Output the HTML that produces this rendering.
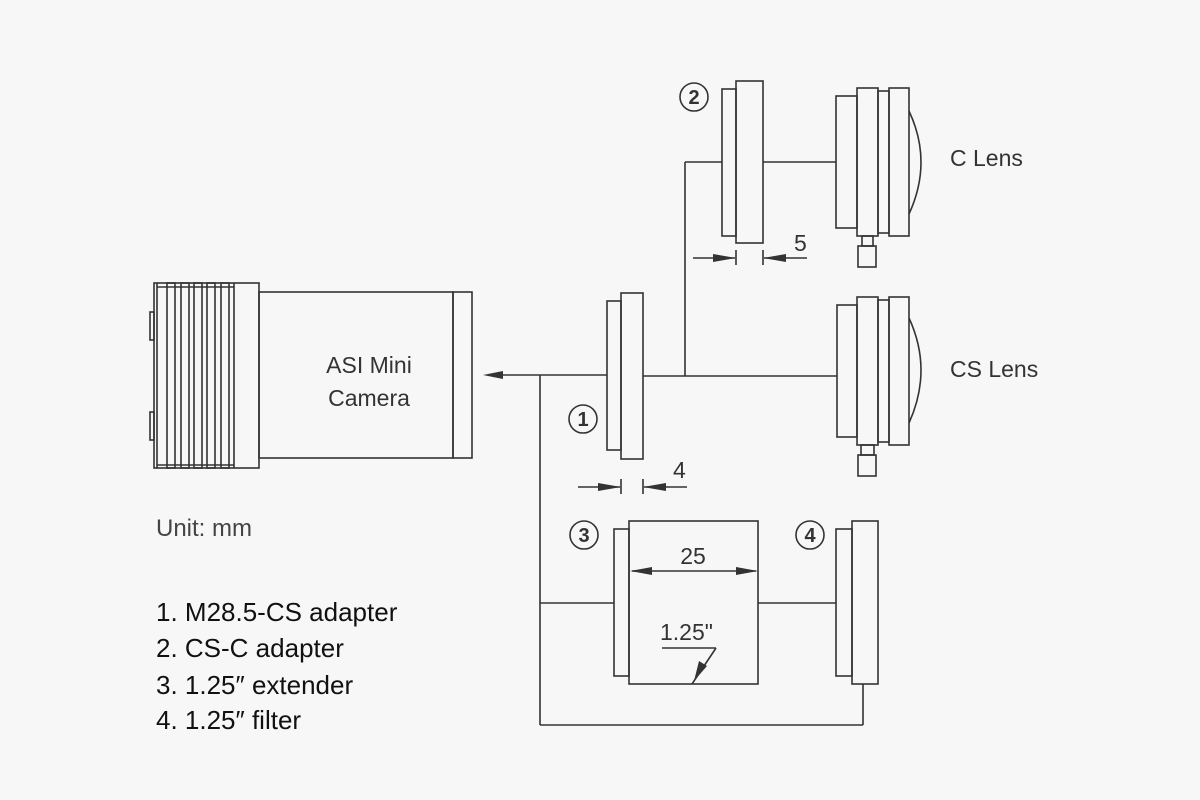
<!DOCTYPE html>
<html><head><meta charset="utf-8"><style>
html,body{margin:0;padding:0;background:#f7f7f7;}
svg{display:block;}
text{font-family:"Liberation Sans",sans-serif;}
</style></head><body>
<svg width="1200" height="800" viewBox="0 0 1200 800" xmlns="http://www.w3.org/2000/svg">
<rect width="1200" height="800" fill="#f7f7f7"/>
<g fill="none" stroke="#333" stroke-width="1.6">
<rect x="150" y="312" width="4" height="28"/>
<rect x="150" y="412" width="4" height="28"/>
<rect x="154" y="283" width="105" height="185"/>
<line x1="157" y1="283" x2="157" y2="468"/>
<line x1="157" y1="287" x2="234" y2="287"/>
<line x1="157" y1="465" x2="234" y2="465"/>
<rect x="167" y="283" width="8" height="185"/>
<rect x="181" y="283" width="8" height="185"/>
<rect x="194" y="283" width="8" height="185"/>
<rect x="207" y="283" width="8" height="185"/>
<rect x="221" y="283" width="8" height="185"/>
<line x1="234" y1="283" x2="234" y2="468"/>
<rect x="259" y="292" width="194" height="166"/>
<rect x="453" y="292" width="19" height="166"/>
<line x1="495" y1="375" x2="607" y2="375"/>
<line x1="540" y1="375" x2="540" y2="725"/>
<line x1="540" y1="725" x2="863" y2="725"/>
<line x1="863" y1="725" x2="863" y2="684"/>
<line x1="643" y1="376" x2="837" y2="376"/>
<line x1="685" y1="376" x2="685" y2="162"/>
<line x1="685" y1="162" x2="722" y2="162"/>
<line x1="763" y1="162" x2="836" y2="162"/>
<line x1="540" y1="603" x2="614" y2="603"/>
<line x1="758" y1="603" x2="836" y2="603"/>
<rect x="607" y="301" width="14" height="149"/>
<rect x="621" y="293" width="22" height="166"/>
<rect x="722" y="89" width="14" height="147"/>
<rect x="736" y="81" width="27" height="162"/>
<rect x="836" y="96" width="21" height="132"/>
<rect x="857" y="88" width="21" height="148"/>
<rect x="878" y="91" width="11" height="142"/>
<rect x="889" y="88" width="20" height="148"/>
<path d="M909 111 Q933 162 909 214"/>
<rect x="862" y="236" width="11" height="10"/>
<rect x="858" y="246" width="18" height="21"/>
<rect x="837" y="305" width="20" height="132"/>
<rect x="857" y="297" width="21" height="148"/>
<rect x="878" y="300" width="11" height="142"/>
<rect x="889" y="297" width="20" height="148"/>
<path d="M909 318 Q933 370 909 423"/>
<rect x="861" y="445" width="13" height="10"/>
<rect x="858" y="455" width="18" height="21"/>
<rect x="614" y="529" width="15" height="147"/>
<rect x="629" y="521" width="129" height="163"/>
<rect x="836" y="529" width="16" height="147"/>
<rect x="852" y="521" width="26" height="163"/>
<circle cx="583" cy="419" r="14"/>
<circle cx="694" cy="97" r="14"/>
<circle cx="584" cy="535" r="14"/>
<circle cx="810" cy="535" r="14"/>
<line x1="578" y1="487" x2="620" y2="487"/>
<line x1="621" y1="479" x2="621" y2="494"/>
<line x1="643" y1="479" x2="643" y2="494"/>
<line x1="644" y1="487" x2="687" y2="487"/>
<line x1="693" y1="258" x2="735" y2="258"/>
<line x1="736" y1="250" x2="736" y2="265"/>
<line x1="763" y1="250" x2="763" y2="265"/>
<line x1="764" y1="258" x2="807" y2="258"/>
<line x1="632" y1="571" x2="756" y2="571"/>
<line x1="662" y1="648" x2="716" y2="648"/>
<line x1="716" y1="648" x2="692" y2="684"/>
</g>
<g fill="#333">
<polygon points="483,375 503,371 503,379"/>
<polygon points="621,487 598,483 598,491"/>
<polygon points="643,487 666,483 666,491"/>
<polygon points="736,258 713,254 713,262"/>
<polygon points="763,258 786,254 786,262"/>
<polygon points="630,571 652,567 652,575"/>
<polygon points="758,571 736,567 736,575"/>
<polygon points="694,681 699,661 707,666"/>
</g>
<g fill="#333" font-size="23">
<text x="369" y="373" text-anchor="middle">ASI Mini</text>
<text x="369" y="406" text-anchor="middle">Camera</text>
<text x="950" y="166">C Lens</text>
<text x="950" y="377">CS Lens</text>
<text x="156" y="536" fill="#444" font-size="24">Unit: mm</text>
<text x="693" y="564" text-anchor="middle">25</text>
<text x="660" y="640">1.25"</text>
<text x="794" y="251">5</text>
<text x="673" y="478">4</text>
</g>
<g fill="#333" font-size="20" font-weight="bold" text-anchor="middle">
<text x="583" y="426">1</text>
<text x="694" y="104">2</text>
<text x="584" y="542">3</text>
<text x="810" y="542">4</text>
</g>
<g fill="#111" font-size="26">
<text x="156" y="621">1. M28.5-CS adapter</text>
<text x="156" y="657">2. CS-C adapter</text>
<text x="156" y="694">3. 1.25″ extender</text>
<text x="156" y="729">4. 1.25″ filter</text>
</g>
</svg>
</body></html>
